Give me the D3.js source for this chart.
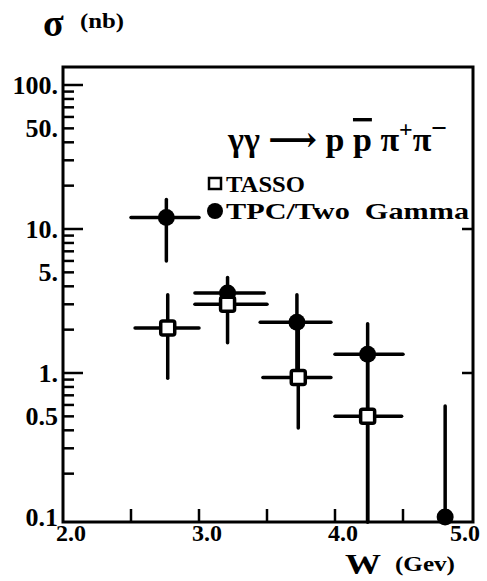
<!DOCTYPE html>
<html>
<head>
<meta charset="utf-8" />
<script src="https://cdnjs.cloudflare.com/ajax/libs/d3/7.8.5/d3.min.js"></script>
<style>
body { margin: 0; background: #fff; }
text { font-family: "Liberation Serif", "DejaVu Serif", serif; font-weight: bold; fill: #000; }
</style>
</head>
<body>
<svg id="chart" width="487" height="581"></svg>
<script>
// TPC/Two Gamma (filled circles)
var tpcW    = [2.76, 3.21, 3.72, 4.24, 4.81];
var tpcSig  = [12.0, 3.6, 2.25, 1.35, 0.10];
var tpcHi   = [16.0, 4.6, 3.5, 2.2, 0.59];
var tpcLo   = [6.0, 3.0, 1.0, 0.05, 0.05];
var tpcWlo  = [2.50, 2.97, 3.45, 4.00, null];
var tpcWhi  = [3.00, 3.48, 3.97, 4.50, null];

// TASSO (open squares)
var tasW    = [2.77, 3.21, 3.73, 4.24];
var tasSig  = [2.05, 3.0, 0.93, 0.50];
var tasHi   = [3.5, 3.3, 2.0, 1.2];
var tasLo   = [0.92, 1.62, 0.415, 0.05];
var tasWlo  = [2.53, 2.97, 3.47, 4.00];
var tasWhi  = [3.00, 3.50, 3.97, 4.49];

var yLabels = [100, 50, 10, 5, 1, 0.5, 0.1];
var yLabelText = ["100.", "50.", "10.", "5.", "1.", "0.5", "0.1"];
var xLabels = [2, 3, 4, 5];
var xMinor = [2.5, 3.0, 3.5, 4.0, 4.5];

var svg = d3.select("#chart");
var pl = 63, pr = 473, pt = 67, pb = 522;

var x = d3.scaleLinear().domain([2, 5]).range([63, 471]);
var y = d3.scaleLog().domain([0.1, 100]).range([517, 85]);

function cy(v) { return Math.min(pb, y(v)); }

// frame
svg.append("rect")
  .attr("x", pl).attr("y", pt)
  .attr("width", pr - pl).attr("height", pb - pt)
  .attr("fill", "none").attr("stroke", "#000").attr("stroke-width", 3);

// y ticks (log minor + major)
var yTicks = [];
[0.1, 1, 10].forEach(function(d) {
  for (var k = 1; k <= 9; k++) yTicks.push(d * k);
});
yTicks.push(100);
svg.append("g").selectAll("line").data(yTicks.filter(function(v) { return v > 0.1; }))
  .enter().append("line")
  .attr("x1", pl).attr("x2", function(v) {
    var major = Math.abs(Math.log10(v) - Math.round(Math.log10(v))) < 1e-6;
    return pl + (major ? 20 : 11);
  })
  .attr("y1", function(v) { return y(v); }).attr("y2", function(v) { return y(v); })
  .attr("stroke", "#000").attr("stroke-width", 2.5);

// right side ticks
svg.append("g").selectAll("line").data([10, 1]).enter().append("line")
  .attr("x1", pr - 11).attr("x2", pr)
  .attr("y1", function(v) { return y(v); }).attr("y2", function(v) { return y(v); })
  .attr("stroke", "#000").attr("stroke-width", 2.5);

// x ticks
svg.append("g").selectAll("line").data(xMinor).enter().append("line")
  .attr("x1", function(v) { return x(v); }).attr("x2", function(v) { return x(v); })
  .attr("y1", pb).attr("y2", pb - 13)
  .attr("stroke", "#000").attr("stroke-width", 2.5);

// y labels
svg.append("g").selectAll("text").data(yLabels).enter().append("text")
  .attr("x", 58).attr("y", function(v) { return y(v) + 9; })
  .attr("text-anchor", "end").attr("font-size", 26)
  .text(function(v, i) { return yLabelText[i]; });

// x labels
svg.append("g").selectAll("text").data(xLabels).enter().append("text")
  .attr("x", function(v) { return v == 5 ? x(v) - 6 : x(v) + 8; })
  .attr("y", 541)
  .attr("text-anchor", "middle").attr("font-size", 24)
  .text(function(v) { return v.toFixed(1); });

// axis titles
svg.append("text").attr("x", 43).attr("y", 36).attr("font-size", 38).text("σ");
svg.append("text").attr("x", 80).attr("y", 28).attr("font-size", 22).attr("font-weight", "normal")
  .attr("textLength", 44).attr("lengthAdjust", "spacingAndGlyphs").text("(nb)");
svg.append("text").attr("x", 345).attr("y", 574).attr("font-size", 29)
  .attr("textLength", 36).attr("lengthAdjust", "spacingAndGlyphs").text("W");
svg.append("text").attr("x", 395).attr("y", 571).attr("font-size", 21).attr("font-weight", "normal")
  .attr("textLength", 60).attr("lengthAdjust", "spacingAndGlyphs").text("(Gev)");

// reaction label
var t = svg.append("text").attr("x", 228).attr("y", 151).attr("font-size", 34);
t.append("tspan").text("γγ ");
t.append("tspan").text("⟶ p ");
t.append("tspan").attr("text-decoration", "overline").text("p");
t.append("tspan").text(" π");
t.append("tspan").attr("font-size", 24).attr("dy", -14).text("+");
t.append("tspan").attr("dy", 14).text("π");
t.append("tspan").attr("font-size", 28).attr("dy", -14).text("−");

// legend
svg.append("rect").attr("x", 209).attr("y", 178).attr("width", 12).attr("height", 11)
  .attr("fill", "#fff").attr("stroke", "#000").attr("stroke-width", 2.5);
svg.append("text").attr("x", 226).attr("y", 192).attr("font-size", 23)
  .attr("textLength", 79).attr("lengthAdjust", "spacingAndGlyphs").text("TASSO");
svg.append("circle").attr("cx", 215).attr("cy", 211).attr("r", 8).attr("fill", "#000");
svg.append("text").attr("x", 226).attr("y", 219).attr("font-size", 23)
  .attr("textLength", 243).attr("lengthAdjust", "spacingAndGlyphs")
  .attr("xml:space", "preserve").text("TPC/Two  Gamma");

var g = svg.append("g").attr("stroke", "#000").attr("stroke-width", 3.5).attr("stroke-linecap", "round");

// TPC error bars
tpcW.forEach(function(w, i) {
  g.append("line").attr("x1", x(w)).attr("x2", x(w))
    .attr("y1", cy(tpcHi[i])).attr("y2", cy(tpcLo[i]));
  if (tpcWlo[i] !== null) {
    g.append("line").attr("x1", x(tpcWlo[i])).attr("x2", x(tpcWhi[i]))
      .attr("y1", y(tpcSig[i])).attr("y2", y(tpcSig[i]));
  }
});
// TASSO error bars
tasW.forEach(function(w, i) {
  g.append("line").attr("x1", x(w)).attr("x2", x(w))
    .attr("y1", cy(tasHi[i])).attr("y2", cy(tasLo[i]));
  g.append("line").attr("x1", x(tasWlo[i])).attr("x2", x(tasWhi[i]))
    .attr("y1", y(tasSig[i])).attr("y2", y(tasSig[i]));
});

// markers
svg.append("g").selectAll("circle").data(tpcW).enter().append("circle")
  .attr("cx", function(w) { return x(w); })
  .attr("cy", function(w, i) { return y(tpcSig[i]); })
  .attr("r", 8.5).attr("fill", "#000");
svg.append("g").selectAll("rect").data(tasW).enter().append("rect")
  .attr("x", function(w) { return x(w) - 7; })
  .attr("y", function(w, i) { return y(tasSig[i]) - 7; })
  .attr("width", 14).attr("height", 14).attr("rx", 2)
  .attr("fill", "#fff").attr("stroke", "#000").attr("stroke-width", 3.5);
</script>
</body>
</html>
